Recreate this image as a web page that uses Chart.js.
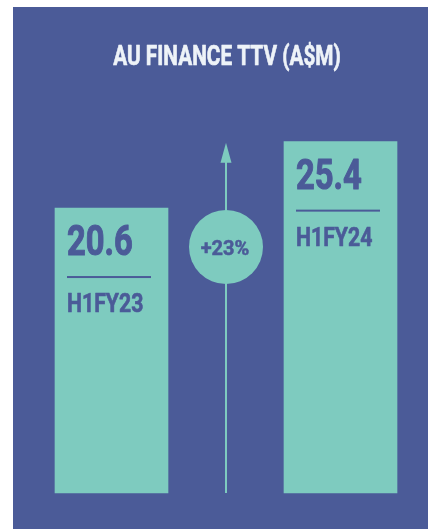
<!DOCTYPE html>
<html>
<head>
<meta charset="utf-8">
<script src="https://cdn.jsdelivr.net/npm/chart.js@4"></script>
<style>
  html, body { margin: 0; padding: 0; background: #ffffff; }
  #panel { position: absolute; left: 13px; top: 7px; width: 415px; height: 522px; background: #4b5b98; }
  canvas { display: block; }
</style>
</head>
<body>
<div id="panel"><canvas id="ttvChart" width="415" height="522"></canvas></div>
<script>
// data
const categories = ['H1FY23', 'H1FY24'];
const ttvValues = [20.6, 25.4];
const growthLabel = '+23%';
const chartTitle = 'AU FINANCE TTV (A$M)';

const purple = '#4b5b98';
const teal = '#7ecbbf';

// condensed look: bold Roboto squeezed horizontally, with a light stroke for weight
function condensedText(ctx, text, x, y, size, align, color, squeeze) {
    ctx.save();
    ctx.font = 'bold ' + size + 'px Roboto, "DejaVu Sans", sans-serif';
    ctx.fillStyle = color;
    ctx.strokeStyle = color;
    ctx.lineWidth = size / 40;
    ctx.lineJoin = 'round';
    ctx.textAlign = align;
    ctx.textBaseline = 'alphabetic';
    ctx.translate(x, y);
    ctx.scale(squeeze, 1);
    ctx.fillText(text, 0, 0);
    ctx.strokeText(text, 0, 0);
    ctx.restore();
}

// title, labels inside the bars, arrow and growth bubble
const decorations = {
    id: 'decorations',
    afterDatasetsDraw(chart) {
        const ctx = chart.ctx;
        const xScale = chart.scales.x;
        const yScale = chart.scales.y;
        const bars = chart.getDatasetMeta(0).data;
        const midX = (xScale.getPixelForValue(0) + xScale.getPixelForValue(1)) / 2;

        // title
        condensedText(ctx, chartTitle, midX + 1, 58, 27, 'center', '#eef3f8', 0.77);

        // arrow between the bars
        const tipY = yScale.getPixelForValue(Math.max(...ttvValues)) + 1;
        const baseY = yScale.getPixelForValue(0);
        ctx.save();
        ctx.strokeStyle = teal;
        ctx.fillStyle = teal;
        ctx.lineWidth = 2;
        ctx.beginPath();
        ctx.moveTo(midX, baseY);
        ctx.lineTo(midX, tipY + 15);
        ctx.stroke();
        ctx.beginPath();
        ctx.moveTo(midX, tipY);
        ctx.lineTo(midX - 5.5, tipY + 20);
        ctx.lineTo(midX + 5.5, tipY + 20);
        ctx.closePath();
        ctx.fill();

        // growth bubble
        const circleY = yScale.getPixelForValue(ttvValues[0]) + 39;
        ctx.beginPath();
        ctx.arc(midX, circleY, 37, 0, Math.PI * 2);
        ctx.fill();
        ctx.restore();
        condensedText(ctx, growthLabel, midX - 1, circleY + 8, 20, 'center', purple, 1.0);

        // text on each bar
        bars.forEach((bar, i) => {
            const left = bar.x - bar.width / 2;
            const top = bar.y;
            condensedText(ctx, ttvValues[i].toFixed(1), left + 12, top + 47, 42, 'left', purple, 0.78);
            ctx.fillStyle = purple;
            ctx.fillRect(left + 12, top + 68, 84, 2);
            condensedText(ctx, categories[i], left + 12, top + 104, 25, 'left', purple, 0.85);
        });
    }
};

new Chart(document.getElementById('ttvChart'), {
    type: 'bar',
    data: {
        labels: categories,
        datasets: [{
            data: ttvValues,
            backgroundColor: teal,
            borderWidth: 0,
            barThickness: 113,
            clip: false
        }]
    },
    options: {
        responsive: false,
        animation: false,
        devicePixelRatio: 1,
        layout: { padding: { left: 98.5, right: 87.5, top: 71, bottom: 36 } },
        scales: {
            x: { display: false, offset: false },
            y: { display: false, min: 0, max: 30 }
        },
        plugins: {
            legend: { display: false },
            tooltip: { enabled: false },
            title: { display: false }
        }
    },
    plugins: [decorations]
});
</script>
</body>
</html>
